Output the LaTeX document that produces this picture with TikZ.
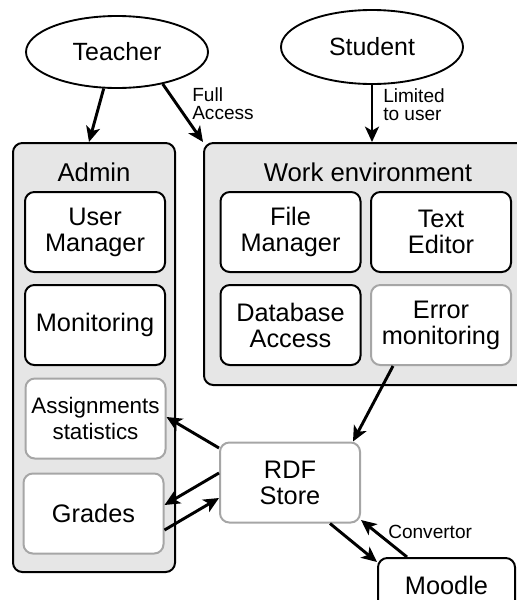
\documentclass[tikz,border=0pt]{standalone}
\usepackage{fontspec}
\setmainfont{Liberation Sans}
\usetikzlibrary{arrows.meta,shapes.geometric}

\definecolor{panelfill}{HTML}{E6E6E6}
\definecolor{softline}{HTML}{A6A6A6}

\tikzset{
  actor/.style={ellipse, draw=black, line width=1.4pt, fill=white, inner sep=0pt,
    font=\fontsize{18.7}{20}\selectfont},
  panel/.style={draw=black, line width=1.5pt, fill=panelfill, rounded corners=7pt,
    inner sep=0pt},
  paneltitle/.style={inner sep=0pt, font=\fontsize{19.3}{20}\selectfont},
  module/.style={draw=black, line width=1.5pt, fill=white, rounded corners=7pt,
    minimum width=105pt, minimum height=60pt, inner sep=0pt, align=center,
    font=\fontsize{19}{19.5}\selectfont},
  softmodule/.style={module, draw=softline},
  flow/.style={line width=2.2pt, -{Stealth[length=11.5pt, width=10.5pt, inset=3pt]}},
  note/.style={inner sep=0pt, anchor=west, align=left,
    font=\fontsize{14.3}{13.5}\selectfont}
}

\begin{document}
\begin{tikzpicture}[x=0.75pt, y=-0.75pt]
  \useasboundingbox (0,0) rectangle (517,600);
  \clip (0,0) rectangle (517,600);

  % users
  \node[actor, minimum width=136.5pt, minimum height=54pt] (teacher) at (117,52) {Teacher};
  \node[actor, minimum width=136.5pt, minimum height=55.5pt] (student) at (372,47) {Student};

  % containers
  \node[panel, minimum width=121.5pt, minimum height=321.75pt] (admin) at (94,357.5) {};
  \node[paneltitle] (admintitle) at (94,172) {Admin};
  \node[panel, minimum width=244.5pt, minimum height=181.5pt] (work) at (367,264) {};
  \node[paneltitle] (worktitle) at (368,172) {Work environment};

  % admin modules
  \node[module] (usermgr) at (95,232) {User\\Manager};
  \node[module] (monitor) at (95,325) {Monitoring};
  \node[softmodule, font=\fontsize{16.8}{19.5}\selectfont] (assign) at (95.5,418.5) {Assignments\\statistics};
  \node[softmodule] (grades) at (93.5,513.5) {Grades};

  % work environment modules
  \node[module] (filemgr) at (290.5,232) {File\\Manager};
  \node[module] (editor) at (441,232) {Text\\Editor};
  \node[module] (dbaccess) at (290.5,325) {Database\\Access};
  \node[softmodule] (errmon) at (441,325) {Error\\monitoring};

  % storage and external system
  \node[softmodule] (rdf) at (290,482.5) {RDF\\Store};
  \node[module, minimum width=102.75pt, minimum height=40.5pt] (moodle) at (446.5,585) {Moodle};

  % access arrows
  \draw[flow] (teacher.250) -- (89,0 |- admin.north);
  \draw[flow] (teacher.-35) -- (work.north west);
  \node[note] (fullacc) at (192,104) {Full\\Access};
  \draw[flow] (student.south) -- (student.south |- work.north);
  \node[note] (limited) at (383,105) {Limited\\to user};

  % data flows
  \draw[flow] (393,0 |- errmon.south) -- (353,0 |- rdf.north);
  \draw[flow] (rdf.west |- 0,448) -- (assign.east |- 0,417);
  \draw[flow] (rdf.west |- 0,473) -- (grades.east |- 0,505);
  \draw[flow] (grades.east |- 0,530) -- (rdf.west |- 0,498);
  \draw[flow] (330,0 |- rdf.south) -- (moodle.west |- 0,562);
  \draw[flow] (407,0 |- moodle.north) -- (rdf.east |- 0,520);
  \node[note] (convertor) at (388,532) {Convertor};
\end{tikzpicture}
\end{document}
